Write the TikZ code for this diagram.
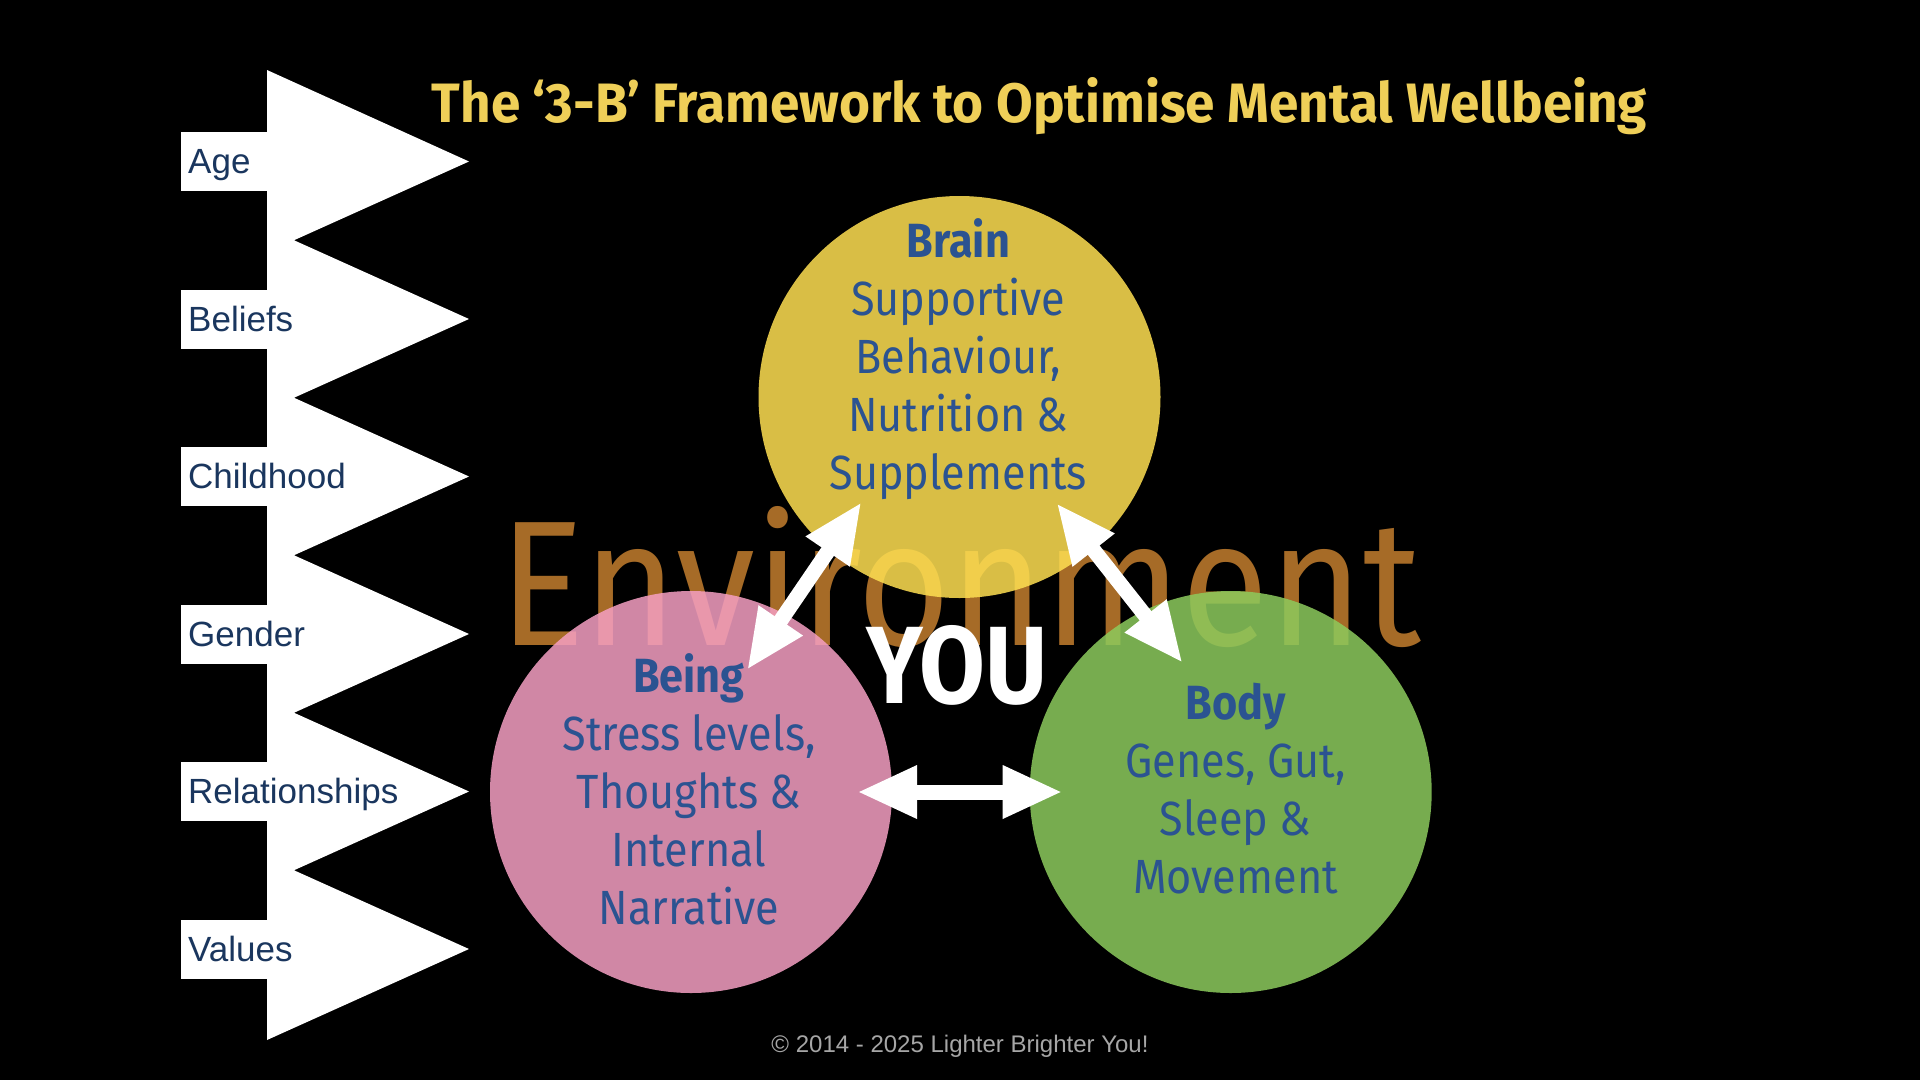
\documentclass[tikz,border=0pt]{standalone}
\usepackage{fontspec}
\usetikzlibrary{arrows.meta,calc}
\setmainfont{Liberation Sans}
\newfontfamily\cfont[FakeStretch=0.9]{Fira Sans}
\newfontfamily\efont{Fira Sans}
\definecolor{titleY}{HTML}{EFCF58}
\definecolor{lblue}{HTML}{1A365E}
\definecolor{cblue}{HTML}{2B5391}
\definecolor{envc}{HTML}{A66B27}
\definecolor{brainc}{RGB}{255,224,82}
\definecolor{beingc}{RGB}{245,159,195}
\definecolor{bodyc}{RGB}{141,203,93}
\definecolor{footc}{HTML}{A6A6A6}
\begin{document}
\begin{tikzpicture}[x=1pt,y=-1pt,
  bubble/.style={circle, minimum size=402pt, inner sep=0pt, fill opacity=0.85, draw=none},
  lbl/.style={anchor=base west, inner sep=0pt, text=lblue, font=\fontsize{35}{40}\selectfont},
  ctxt/.style={anchor=base, inner sep=0pt, text=cblue, font=\cfont\fontsize{48}{58}\selectfont},
  chead/.style={anchor=base, inner sep=0pt, text=cblue, font=\cfont\bfseries\fontsize{48}{58}\selectfont},
  dbl/.style={white, line width=15pt, {Triangle[length=60pt,width=49pt]}-{Triangle[length=60pt,width=49pt]}},
]
\useasboundingbox (0,0) rectangle (1920,1080);
\fill[black] (0,0) rectangle (1920,1080);

% left influence arrows
\fill[white] (267,70) -- (469,161.5) -- (294,240.25) -- (469,319) -- (294,397.75) -- (469,476.5)
  -- (294,555.25) -- (469,634) -- (294,712.75) -- (469,791.5) -- (294,870.25) -- (469,949)
  -- (267,1040) -- cycle;
\foreach \yy in {161.5,319,476.5,634,791.5,949}{
  \fill[white] (181,\yy-29.5) rectangle (268,\yy+29.5);
}
\node[lbl] (age) at (188,173.5) {Age};
\node[lbl] (beliefs) at (188,331) {Beliefs};
\node[lbl] (childhood) at (188,488.5) {Childhood};
\node[lbl] (gender) at (188,646) {Gender};
\node[lbl] (relationships) at (188,803.5) {Relationships};
\node[lbl] (values) at (188,961) {Values};

% title
\node[anchor=base, inner sep=0pt, text=titleY] (title) at (1039.5,122)
  {\resizebox{1215pt}{45pt}{\cfont\bfseries The ‘3-B’ Framework to Optimise Mental Wellbeing}};

% environment
\node[anchor=base, inner sep=0pt, text=envc] (env) at (960,645.3)
  {\resizebox{921pt}{139pt}{\efont Environment}};

% circles
\node[bubble, fill=brainc] (brain) at (959.5,397) {};
\node[bubble, fill=beingc] (being) at (691,792) {};
\node[bubble, fill=bodyc] (body) at (1230.7,792) {};

% brain text
\node[chead] (brain1) at (958.3,257.5) {Brain};
\node[ctxt] (brain2) at (958.3,315.5) {Supportive};
\node[ctxt] (brain3) at (958.3,373.5) {Behaviour,};
\node[ctxt] (brain4) at (958.3,431.5) {Nutrition \&};
\node[ctxt] (brain5) at (958.3,489.5) {Supplements};
% being text
\node[chead] (being1) at (689,692.5) {Being};
\node[ctxt] (being2) at (689,750.5) {Stress levels,};
\node[ctxt] (being3) at (689,808.5) {Thoughts \&};
\node[ctxt] (being4) at (689,866.5) {Internal};
\node[ctxt] (being5) at (689,924.5) {Narrative};
% body text
\node[chead] (body1) at (1235.5,719.5) {Body};
\node[ctxt] (body2) at (1235.5,777.5) {Genes, Gut,};
\node[ctxt] (body3) at (1235.5,835.5) {Sleep \&};
\node[ctxt] (body4) at (1235.5,893.5) {Movement};

% YOU
\node[anchor=base, inner sep=0pt, text=white] (you) at (957.3,703)
  {\resizebox{181pt}{78pt}{\cfont\bfseries YOU}};

% arrows
\draw[dbl] ([shift={(-98,105)}]brain.center) -- ([shift={(56,-122)}]being.center);
\draw[dbl] ([shift={(97,106)}]brain.center) -- ([shift={(-48,-129)}]body.center);
\draw[dbl] ([shift={(166,0)}]being.center) -- ([shift={(-168,0)}]body.center);

% footer
\node[anchor=base, inner sep=0pt, text=footc, font=\fontsize{24}{28}\selectfont] (foot) at (960,1052.3)
  {© 2014 - 2025 Lighter Brighter You!};
\end{tikzpicture}
\end{document}
